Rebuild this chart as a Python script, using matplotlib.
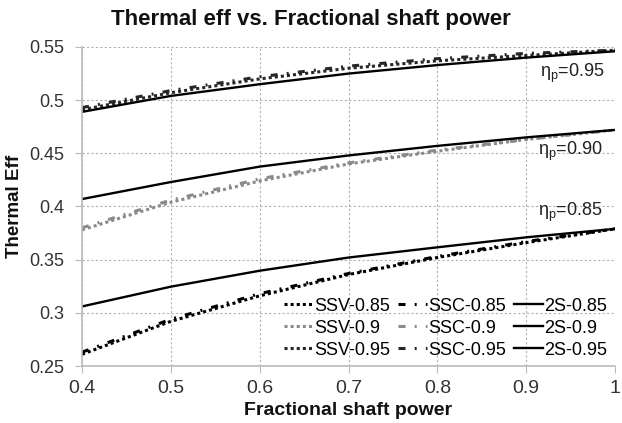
import matplotlib
matplotlib.use("Agg")
import matplotlib.pyplot as plt

plt.rcParams['font.family'] = ['Liberation Sans', 'DejaVu Sans']

frac_power = [0.4, 0.5, 0.6, 0.7, 0.8, 0.9, 1.0]

ssv_085 = [0.261, 0.292, 0.316, 0.336, 0.352, 0.366, 0.379]
ssc_085 = [0.263, 0.294, 0.318, 0.337, 0.353, 0.367, 0.379]
s2_085 = [0.306, 0.3246, 0.3396, 0.352, 0.3616, 0.371, 0.379]

ssv_090 = [0.378, 0.404, 0.424, 0.440, 0.452, 0.463, 0.472]
ssc_090 = [0.380, 0.406, 0.426, 0.441, 0.453, 0.463, 0.472]
s2_090 = [0.407, 0.423, 0.4375, 0.448, 0.457, 0.465, 0.472]

ssv_095 = [0.491, 0.507, 0.520, 0.530, 0.537, 0.542, 0.547]
ssc_095 = [0.493, 0.509, 0.522, 0.532, 0.539, 0.544, 0.547]
s2_095 = [0.489, 0.504, 0.515, 0.525, 0.533, 0.540, 0.546]

annot_labels = [r'$\mathregular{\eta_p}$=0.95', r'$\mathregular{\eta_p}$=0.90', r'$\mathregular{\eta_p}$=0.85']
annot_x = [0.952, 0.950, 0.950]
annot_y = [0.525, 0.4515, 0.394]

W, H = 622, 423
L, R, T, B = 82, 615, 47, 366
fig = plt.figure(figsize=(W/100, H/100), dpi=100)
ax = fig.add_axes([L/W, 1 - B/H, (R-L)/W, (B-T)/H])

dotted = (0, (1, 1))
dashdot = (0, (2.3, 3, 0.65, 3))

ax.plot(frac_power, ssv_085, color='black', ls=dotted, lw=2.2, label='SSV-0.85')
ax.plot(frac_power, ssv_090, color='#8a8a8a', ls=dotted, lw=2.2, label='SSV-0.9')
ax.plot(frac_power, ssv_095, color='#262626', ls=dotted, lw=2.2, label='SSV-0.95')
ax.plot(frac_power, ssc_085, color='black', ls=dashdot, lw=2.2, label='SSC-0.85')
ax.plot(frac_power, ssc_090, color='#8a8a8a', ls=dashdot, lw=2.2, label='SSC-0.9')
ax.plot(frac_power, ssc_095, color='#262626', ls=dashdot, lw=2.2, label='SSC-0.95')
ax.plot(frac_power, s2_085, color='black', ls='-', lw=1.7, label='2S-0.85')
ax.plot(frac_power, s2_090, color='black', ls='-', lw=1.7, label='2S-0.9')
ax.plot(frac_power, s2_095, color='black', ls='-', lw=1.7, label='2S-0.95')

for t, x, y in zip(annot_labels, annot_x, annot_y):
    ax.text(x, y, t, ha='center', va='center', fontsize=13, color='#222222')

ax.set_xlim(0.4, 1.0)
ax.set_ylim(0.25, 0.55)
ax.set_xticks([0.4, 0.5, 0.6, 0.7, 0.8, 0.9, 1.0])
ax.set_xticklabels(['0.4', '0.5', '0.6', '0.7', '0.8', '0.9', '1'])
ax.set_yticks([0.25, 0.3, 0.35, 0.4, 0.45, 0.5, 0.55])
ax.set_yticklabels(['0.25', '0.3', '0.35', '0.4', '0.45', '0.5', '0.55'])
ax.tick_params(axis='y', labelsize=13, labelcolor='#333333', length=5, color='#bbbbbb', pad=8)
ax.tick_params(axis='x', labelsize=14, labelcolor='#333333', length=5, color='#bbbbbb', pad=5)
ax.grid(True, color='#b0b0b0', ls=(0, (2, 2)), lw=0.8)
ax.set_axisbelow(True)
for s in ['top', 'right']:
    ax.spines[s].set_visible(False)
for s in ['left', 'bottom']:
    ax.spines[s].set_color('#bbbbbb')
    ax.spines[s].set_linewidth(1.2)

fig.text(0.5, 1 - 19/H, 'Thermal eff vs. Fractional shaft power', ha='center', va='center',
         fontsize=16, fontweight='bold', color='#111111')
fig.text((L+R)/2/W, 1 - 410/H, 'Fractional shaft power', ha='center', va='center',
         fontsize=14, fontweight='bold', color='#111111')
fig.text(15/W, 1 - 206/H, 'Thermal Eff', ha='center', va='center', rotation=90,
         fontsize=13.5, fontweight='bold', color='#111111')

ax.legend(ncol=3, loc='lower right', bbox_to_anchor=((610 - L + 4)/(R - L), 0.0), frameon=False,
          fontsize=13, handlelength=1.6, handletextpad=0.05, columnspacing=0.45,
          labelspacing=0.28, borderaxespad=0.2, borderpad=0.2)

fig.savefig('out.png', dpi=100)
